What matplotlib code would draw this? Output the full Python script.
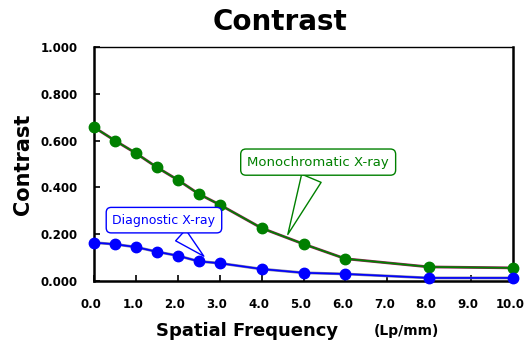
import matplotlib
matplotlib.use("Agg")
import matplotlib.pyplot as plt
import matplotlib.transforms as mtransforms
from matplotlib import rcParams

rcParams["font.family"] = "DejaVu Sans"

# spatial frequency (Lp/mm)
freq = [0.0, 0.5, 1.0, 1.5, 2.0, 2.5, 3.0, 4.0, 5.0, 6.0, 8.0, 10.0]
mono = [0.657, 0.600, 0.546, 0.486, 0.432, 0.372, 0.326, 0.226, 0.158, 0.095, 0.060, 0.056]
diag = [0.164, 0.157, 0.145, 0.125, 0.108, 0.084, 0.076, 0.051, 0.035, 0.030, 0.013, 0.013]

xticks = [0, 1, 2, 3, 4, 5, 6, 7, 8, 9, 10]
yticks = [0.0, 0.2, 0.4, 0.6, 0.8, 1.0]

fig = plt.figure(figsize=(5.26, 3.43), dpi=100)
fig.set_facecolor("white")
ax = fig.add_axes([0.1787, 0.1808, 0.7966, 0.6822])

# shadow lines underneath
ax.plot(freq, mono, color="#8b2252", lw=2.0, zorder=2, clip_on=False)
ax.plot(freq, diag, color="#8080a0", lw=2.0, zorder=2, clip_on=False)

ax.plot(freq, mono, color="#008000", lw=1.2, marker="o", ms=7.5, mec="#008000", zorder=3, clip_on=False)
ax.plot(freq, diag, color="#0000ff", lw=1.2, marker="o", ms=7.5, mec="#0000ff", zorder=3, clip_on=False)

ax.set_xlim(0, 10)
ax.set_ylim(0, 1)
ax.set_xticks(xticks)
ax.set_xticklabels([f"{v:.1f}" for v in xticks], fontsize=8.5, fontweight="bold")
ax.set_yticks(yticks)
ax.set_yticklabels([f"{v:.3f}" for v in yticks], fontsize=8.5, fontweight="bold")
ax.tick_params(direction="in", length=4, width=1.2, pad=12, color="black")

# shift x tick labels a bit left, like the original
shift = mtransforms.ScaledTranslation(-3 / 100, 0, fig.dpi_scale_trans)
for lbl in ax.get_xticklabels():
    lbl.set_transform(lbl.get_transform() + shift)

for s in ["left", "bottom", "right"]:
    ax.spines[s].set_linewidth(1.8)
ax.spines["top"].set_linewidth(1.0)

ax.set_ylabel("Contrast", fontsize=15, fontweight="bold", labelpad=5)

fig.text(0.532, 0.935, "Contrast", ha="center", va="center", fontsize=20, fontweight="bold")
fig.text(0.469, 0.035, "Spatial Frequency", ha="center", va="center", fontsize=13, fontweight="bold")
fig.text(0.772, 0.035, "(Lp/mm)", ha="center", va="center", fontsize=10, fontweight="bold")

ax.annotate("Monochromatic X-ray", xy=(4.6, 0.188), xytext=(5.35, 0.508),
            ha="center", va="center", fontsize=9.5, color="#008000",
            bbox=dict(boxstyle="round,pad=0.5,rounding_size=0.4", fc="white", ec="#008000", lw=1),
            arrowprops=dict(arrowstyle="wedge,tail_width=1.6,shrink_factor=0.5", fc="white", ec="#008000", lw=1),
            zorder=5)
ax.annotate("Diagnostic X-ray", xy=(2.67, 0.098), xytext=(1.67, 0.26),
            ha="center", va="center", fontsize=9, color="#0000ff",
            bbox=dict(boxstyle="round,pad=0.5,rounding_size=0.4", fc="white", ec="#0000ff", lw=1),
            arrowprops=dict(arrowstyle="wedge,tail_width=1.2,shrink_factor=0.5", fc="white", ec="#0000ff", lw=1),
            zorder=5)

plt.savefig("out.png", dpi=100)
